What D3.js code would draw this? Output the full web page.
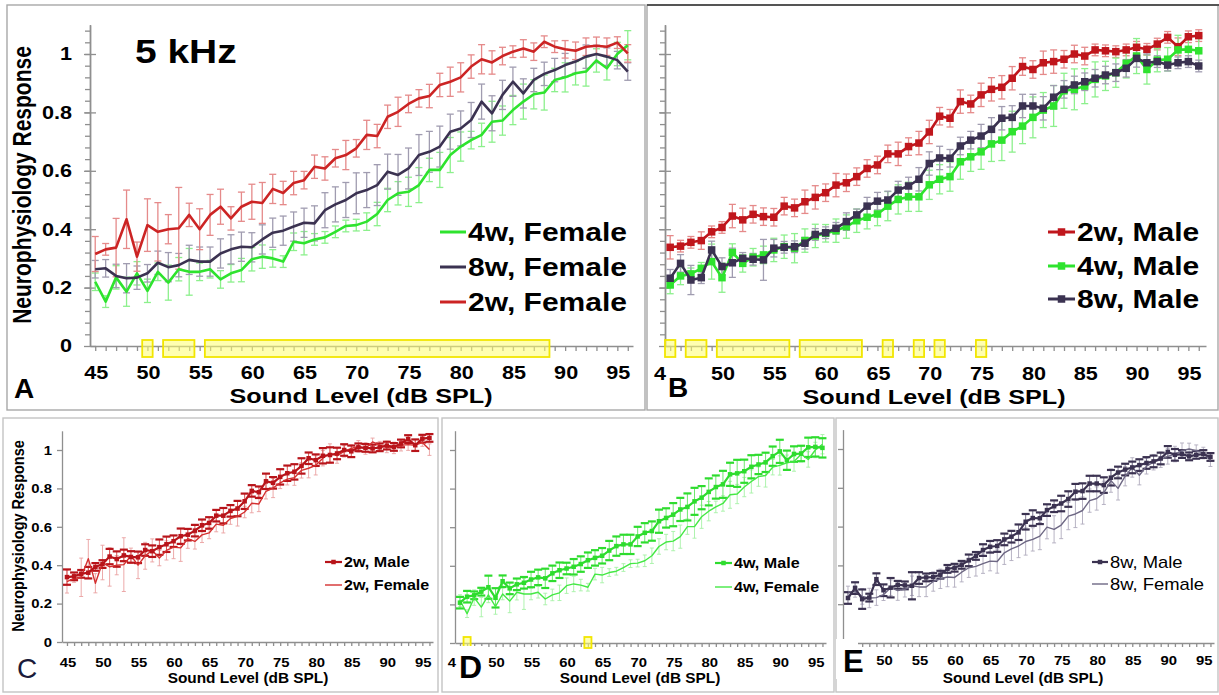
<!DOCTYPE html>
<html>
<head>
<meta charset="utf-8">
<script src="https://cdn.jsdelivr.net/npm/d3@7"></script>
<style>
  body { margin: 0; background: #fff; }
  svg { display: block; }
  text { font-family: "Liberation Sans", Arial, sans-serif; }
</style>
</head>
<body>
<div id="fig"></div>
<script>
// Sound levels (dB SPL)
var levels = [45,46,47,48,49,50,51,52,53,54,55,56,57,58,59,60,61,62,63,64,65,66,67,68,69,70,
              71,72,73,74,75,76,77,78,79,80,81,82,83,84,85,86,87,88,89,90,91,92,93,94,95,96];

// Female responses (panel A) and error bars
var female2w = [.315,.331,.337,.434,.306,.414,.391,.40,.403,.449, .40,.449,.477,.437,.477,.494,.49,.538,.524,.558,
                .568,.614,.608,.643,.654,.677,.723,.719,.785,.802, .829,.848,.856,.894,.905,.92,.957,.982,.971,.993,
                1.008,1.019,1.008,1.042,1.025,1.016,1.011,1.025,1.028,1.025, 1.039,1.002];
var female2wErr = [.06,.02,.10,.10,.05,.09,.10,.05,.14,.04, .07,.07,.06,.04,.05,.06,.07,.05,.04,.04,
                   .03,.04,.04,.03,.05,.03,.05,.04,.04,.05, .03,.03,.04,.04,.05,.05,.04,.05,.04,.03,
                   .02,.03,.03,.02,.02,.03,.03,.03,.03,.03, .02,.03];
var female4w = [.22,.152,.235,.186,.249,.189,.254,.217,.263,.254, .254,.263,.228,.249,.26,.297,.306,.30,.289,.357,
                .352,.365,.372,.391,.411,.414,.426,.452,.50,.523, .528,.551,.603,.603,.654,.683,.705,.723,.768,.772,
                .808,.837,.862,.868,.911,.92,.934,.94,.978,.951, 1.0,1.03];
var female4wErr = [.03,.02,.04,.05,.04,.04,.03,.06,.04,.08, .03,.03,.03,.03,.04,.04,.04,.03,.02,.03,
                   .04,.02,.02,.02,.02,.02,.03,.04,.04,.04, .05,.06,.04,.06,.06,.05,.03,.04,.07,.05,
                   .05,.06,.05,.06,.04,.05,.04,.05,.04,.04, .04,.05];
var female8w = [.263,.266,.24,.232,.234,.249,.285,.27,.277,.295, .289,.289,.317,.331,.34,.338,.365,.388,.395,.409,
                .422,.42,.465,.485,.50,.523,.534,.551,.597,.586, .608,.654,.665,.683,.734,.745,.774,.837,.797,.86,
                .905,.865,.911,.932,.945,.962,.974,.991,1.0,.991, .979,.94];
var female8wErr = [.03,.03,.04,.05,.04,.03,.04,.05,.04,.05, .05,.05,.05,.05,.05,.05,.05,.05,.05,.05,
                   .05,.06,.06,.06,.06,.07,.06,.07,.06,.07, .07,.07,.07,.07,.06,.06,.06,.06,.06,.05,
                   .05,.05,.04,.04,.04,.04,.04,.04,.03,.03, .03,.03];

// Male responses (panel B) and error bars
var male2w = [.338,.342,.355,.361,.391,.406,.445,.432,.451,.443, .441,.479,.473,.494,.509,.525,.551,.559,.58,.608,
              .62,.658,.658,.683,.695,.733,.787,.78,.837,.829, .86,.879,.886,.917,.957,.947,.97,.974,.982,1.0,
              .993,1.014,1.011,1.008,1.014,1.023,1.016,1.034,1.057,1.025, 1.059,1.063];
var male2wErr = [.04,.02,.02,.03,.02,.02,.04,.04,.03,.03, .03,.03,.03,.04,.04,.03,.04,.03,.03,.03,
                 .03,.03,.04,.03,.04,.04,.03,.03,.04,.03, .04,.04,.04,.04,.03,.03,.04,.04,.03,.03,
                 .03,.02,.02,.02,.02,.02,.02,.02,.02,.03, .02,.02];
var male4w = [.209,.24,.247,.266,.289,.234,.32,.283,.304,.312, .329,.34,.335,.361,.377,.386,.395,.409,.429,.441,
              .452,.479,.502,.511,.511,.552,.571,.58,.631,.648, .665,.692,.705,.734,.753,.783,.808,.822,.874,.879,
              .89,.913,.925,.936,.968,.993,.947,.979,.982,1.014, 1.016,1.011];
var male4wErr = [.03,.03,.02,.02,.06,.05,.03,.03,.03,.03, .04,.04,.05,.04,.04,.03,.04,.04,.04,.04,
                 .04,.05,.05,.05,.05,.05,.05,.05,.06,.05, .06,.06,.07,.07,.06,.07,.06,.07,.06,.07,
                 .06,.06,.05,.05,.05,.06,.05,.04,.04,.05, .05,.05];
var male8w = [.232,.283,.226,.234,.329,.272,.285,.30,.297,.295, .335,.338,.34,.352,.382,.388,.403,.426,.449,.479,
              .496,.50,.534,.548,.571,.625,.644,.643,.685,.705, .719,.742,.78,.783,.822,.822,.814,.852,.879,.894,
              .905,.917,.928,.936,.951,.985,.97,.974,.962,.97, .974,.959];
var male8wErr = [.03,.03,.05,.02,.03,.03,.05,.02,.02,.07, .03,.02,.02,.02,.02,.02,.02,.03,.02,.03,
                 .03,.03,.03,.03,.04,.04,.04,.03,.03,.03, .04,.04,.04,.04,.04,.04,.04,.04,.03,.03,
                 .03,.03,.03,.03,.03,.03,.03,.02,.02,.02, .02,.02];

// Significant sound levels (yellow boxes), as [from, to]
var sigA = [[50,50],[52,54],[56,88]];
var sigB = [[45,45],[47,48],[50,56],[58,63],[66,66],[69,69],[71,71],[75,75]];
var sigD = [[46,46],[63,63]];

// Tick labels
var xTicks = [45,50,55,60,65,70,75,80,85,90,95];
var yTicks = [0,0.2,0.4,0.6,0.8,1];
var yTickLabels = ["0","0.2","0.4","0.6","0.8","1"];

var RED = "#c0161c", RED_F = "#cc2424", GREEN = "#2ee32e", PURPLE = "#3b3251";
var AXIS = "#8f8f8f";

var svg = d3.select("#fig").append("svg").attr("width", 1219).attr("height", 695);

// text helper, sx stretches glyphs horizontally like the original figure
function label(g, x, y, s, o) {
    o = o || {};
    var sx = o.sx || 1;
    var tr = "translate(" + x + "," + y + ")" +
        (o.rot ? " rotate(-90) scale(1," + sx + ")" : " scale(" + sx + ",1)");
    return g.append("text")
        .attr("transform", tr)
        .attr("text-anchor", o.anchor || "start")
        .style("font-size", (o.size || 14) + "px")
        .style("font-weight", o.weight || "bold")
        .style("fill", o.fill || "#000")
        .text(s);
}

function frame(x, y, w, h, col) {
    svg.append("rect").attr("x", x).attr("y", y).attr("width", w).attr("height", h)
        .attr("fill", "none").attr("stroke", col || "#b5b5b5").attr("stroke-width", 1.4);
}

frame(7, 5, 638, 405, "#a8a8a8");
frame(647, 5, 571, 405, "#a8a8a8");
svg.append("line").attr("x1", 647).attr("x2", 1219).attr("y1", 5).attr("y2", 5)
    .attr("stroke", "#555").attr("stroke-width", 2.2);
frame(3, 418, 435, 274, "#c4c4c4");
frame(442, 418, 392, 274, "#c4c4c4");
frame(836, 418, 382, 274, "#c4c4c4");

function drawPanel(p) {
    var g = svg.append("g");
    var x = d3.scaleLinear().domain(p.xDomain).range(p.xRange);
    var y = d3.scaleLinear().domain([0, 1.1]).range([p.y0, p.y0 - 1.1 * (p.y0 - p.y1)]);
    var x0 = p.xRange[0];

    // y axis
    var yg = g.append("g").attr("transform", "translate(" + x0 + ",0)");
    if (p.minor) {
        yg.call(d3.axisLeft(y).tickValues(d3.range(0.04, 1.09, 0.04)).tickSize(5).tickSizeOuter(0).tickFormat(""));
    }
    yg.append("g").call(d3.axisLeft(y).tickValues(yTicks).tickSize(p.tick).tickSizeOuter(0).tickFormat(""));
    if (p.bothSides) {
        yg.append("g").call(d3.axisRight(y).tickValues(yTicks).tickSize(p.tick).tickSizeOuter(0).tickFormat(""));
    }
    // x axis
    g.append("g").attr("transform", "translate(0," + y(0) + ")")
        .call(d3.axisBottom(x).tickValues(levels).tickSize(p.tick - 1).tickSizeOuter(0).tickFormat(""));
    g.selectAll("path, line").attr("stroke", AXIS).attr("stroke-width", 1.3);

    // significance boxes
    if (p.sig) {
        g.selectAll("rect.sig").data(p.sig).enter().append("rect")
            .attr("x", function(d) { return x(d[0] - 0.5); })
            .attr("width", function(d) { return x(d[1] + 0.5) - x(d[0] - 0.5); })
            .attr("y", y(0) - p.sigUp).attr("height", p.sigH)
            .attr("fill", "#ffff70").attr("fill-opacity", 0.55)
            .attr("stroke", "#f2e600").attr("stroke-width", 1.8);
    }

    // error bars first, then lines and markers
    p.series.forEach(function(s) {
        var pts = levels.map(function(l, i) { return {l: l, v: s.values[i], e: s.err[i]}; });
        var eg = g.append("g").attr("stroke", s.errColor);
        eg.selectAll("line.bar").data(pts).enter().append("line")
            .attr("stroke-width", s.errWidth)
            .attr("x1", function(d) { return x(d.l); }).attr("x2", function(d) { return x(d.l); })
            .attr("y1", function(d) { return y(d.v - d.e); }).attr("y2", function(d) { return y(d.v + d.e); });
        [1, -1].forEach(function(sign) {
            eg.selectAll("line.cap" + sign).data(pts).enter().append("line")
                .attr("stroke", s.capColor || s.errColor)
                .attr("stroke-width", s.capWidth || s.errWidth)
                .attr("x1", function(d) { return x(d.l) - s.cap / 2; })
                .attr("x2", function(d) { return x(d.l) + s.cap / 2; })
                .attr("y1", function(d) { return y(d.v + sign * d.e); })
                .attr("y2", function(d) { return y(d.v + sign * d.e); });
        });
        s.pts = pts;
    });
    p.series.forEach(function(s) {
        var line = d3.line().x(function(d) { return x(d.l); }).y(function(d) { return y(d.v); });
        g.append("path").datum(s.pts).attr("d", line)
            .attr("fill", "none").attr("stroke", s.color).attr("stroke-width", s.width)
            .attr("stroke-linejoin", "round");
        if (s.marker) {
            g.selectAll(null).data(s.pts).enter().append("rect")
                .attr("x", function(d) { return x(d.l) - s.marker / 2; })
                .attr("y", function(d) { return y(d.v) - s.marker / 2; })
                .attr("width", s.marker).attr("height", s.marker)
                .attr("fill", s.color);
        }
    });

    // tick labels
    if (p.yLabels) {
        yTicks.forEach(function(t, i) {
            label(g, x0 - p.yLabelGap, y(t) + p.tickFont * 0.36, yTickLabels[i],
                {size: p.tickFont, anchor: "end", sx: p.sx});
        });
    }
    xTicks.forEach(function(t) {
        if (t === 45 && p.first === "none") return;
        if (t === 45 && p.first) {
            // only the "4" of the first label shows beside the panel letter
            label(g, p.first, p.xLabelY, "4", {size: p.tickFont, anchor: "end", sx: p.sx});
            return;
        }
        label(g, x(t) + 1, p.xLabelY, String(t), {size: p.tickFont, anchor: "middle", sx: p.sx});
    });
    label(g, p.xTitle[0], p.xTitle[1], "Sound Level (dB SPL)", {size: p.titleFont, anchor: "middle", sx: p.sx});
    if (p.yTitle) {
        label(g, p.yTitle[0], p.yTitle[1], "Neurophysiology Response",
            {size: p.yTitle[2], anchor: "middle", rot: true, sx: p.sx});
    }

    // legend
    p.legend.forEach(function(it, i) {
        var cy = p.leg.y[i];
        g.append("line").attr("x1", p.leg.x1).attr("x2", p.leg.x2).attr("y1", cy).attr("y2", cy)
            .attr("stroke", it.s.color).attr("stroke-width", it.s.legWidth || it.s.width);
        if (it.s.marker) {
            var m = it.s.marker;
            g.append("rect").attr("x", (p.leg.x1 + p.leg.x2) / 2 - m / 2).attr("y", cy - m / 2)
                .attr("width", m).attr("height", m).attr("fill", it.s.color);
        }
        label(g, p.leg.x2 + 2, cy + p.leg.font * 0.36, it.text,
            {size: p.leg.font, weight: p.leg.weight || "bold", sx: p.leg.sx || p.sx});
    });

    // panel letter with white backing
    if (p.letterBox) {
        g.append("rect").attr("x", p.letterBox[0]).attr("y", p.letterBox[1])
            .attr("width", p.letterBox[2]).attr("height", p.letterBox[3]).attr("fill", "#fff");
    }
    label(g, p.letter[0], p.letter[1], p.letter[2],
        {size: p.letter[3], weight: p.letter[4] || "bold", fill: p.letter[5] || "#000"});
    return g;
}

function bigStyle(values, err, color, errColor, marker) {
    return {values: values, err: err, color: color, width: 2.6, errColor: errColor,
            errWidth: 1.3, cap: 7, marker: marker, legWidth: 3};
}
function maleSmall(values, err, color, errColor) {
    return {values: values, err: err, color: color, width: 2.2, errColor: errColor, errWidth: 1,
            cap: 8, capColor: color, capWidth: 2.2, marker: 4.5, legWidth: 2.2};
}
function femaleSmall(values, err, color, errColor) {
    return {values: values, err: err, color: color, width: 1.4, errColor: errColor, errWidth: 0.9,
            cap: 4, legWidth: 1.4};
}

// Panel A: females
var aG = bigStyle(female4w, female4wErr, GREEN, "#8cf08c");
var aP = bigStyle(female8w, female8wErr, PURPLE, "#a09cb0");
var aR = bigStyle(female2w, female2wErr, RED_F, "#e58a8a");
var gA = drawPanel({
    xDomain: [44.5, 96.5], xRange: [90, 633], y0: 346, y1: 54,
    minor: true, bothSides: true, tick: 6, sig: sigA, sigUp: 6, sigH: 17,
    series: [aG, aP, aR],
    yLabels: true, yLabelGap: 18, tickFont: 18, sx: 1.2, xLabelY: 379,
    xTitle: [361, 403], titleFont: 21, yTitle: [31, 185, 21],
    legend: [{s: aG, text: "4w, Female"}, {s: aP, text: "8w, Female"}, {s: aR, text: "2w, Female"}],
    leg: {x1: 440, x2: 466, y: [232, 267, 302], font: 25},
    letter: [14, 398, "A", 28]
});
label(gA, 135, 63, "5 kHz", {size: 33, sx: 1.18});

// Panel B: males
var bR = bigStyle(male2w, male2wErr, RED, "#e58a8a", 7.5);
var bG = bigStyle(male4w, male4wErr, GREEN, "#8cf08c", 7.5);
var bP = bigStyle(male8w, male8wErr, PURPLE, "#a09cb0", 7.5);
drawPanel({
    xDomain: [44.5, 96.7], xRange: [665, 1206], y0: 346, y1: 54,
    minor: true, bothSides: true, tick: 6, sig: sigB, sigUp: 6, sigH: 17,
    series: [bR, bG, bP],
    yLabels: false, tickFont: 18, sx: 1.2, xLabelY: 380, first: 666,
    xTitle: [934, 404], titleFont: 21,
    legend: [{s: bR, text: "2w, Male"}, {s: bG, text: "4w, Male"}, {s: bP, text: "8w, Male"}],
    leg: {x1: 1048, x2: 1075, y: [232, 266, 299], font: 25},
    letterBox: [667, 362, 28, 40],
    letter: [668, 397, "B", 28]
});

// Panel C: 2w male vs female
var cF = femaleSmall(female2w, female2wErr, "#d43030", "#eaa0a0");
var cM = maleSmall(male2w, male2wErr, "#b8141a", "#d85050");
drawPanel({
    xDomain: [44.3, 96.5], xRange: [62, 433], y0: 642, y1: 450,
    minor: false, bothSides: false, tick: 5,
    series: [cF, cM],
    yLabels: true, yLabelGap: 10, tickFont: 13.5, sx: 1.1, xLabelY: 667,
    xTitle: [248, 683], titleFont: 14, yTitle: [24, 536, 14.5],
    legend: [{s: cM, text: "2w, Male"}, {s: cF, text: "2w, Female"}],
    leg: {x1: 325, x2: 342, y: [562, 585], font: 14, sx: 1.15},
    letter: [17, 678, "C", 28, "normal", "#1b1b3a"]
});

// Panel D: 4w male vs female
var dF = femaleSmall(female4w, female4wErr, "#45e845", "#a6f2a6");
var dM = maleSmall(male4w, male4wErr, "#2edc2e", "#6fe86f");
drawPanel({
    xDomain: [44.3, 96.5], xRange: [455, 826], y0: 643, y1: 450,
    minor: false, bothSides: false, tick: 5, sig: sigD, sigUp: 6, sigH: 11,
    series: [dF, dM],
    yLabels: false, tickFont: 13.5, sx: 1.1, xLabelY: 667, first: 456,
    xTitle: [640, 683], titleFont: 14,
    legend: [{s: dM, text: "4w, Male"}, {s: dF, text: "4w, Female"}],
    leg: {x1: 715, x2: 732, y: [563, 587], font: 14, sx: 1.15},
    letterBox: [457, 646, 30, 36],
    letter: [459, 678, "D", 32]
});

// Panel E: 8w male vs female
var eF = femaleSmall(female8w, female8wErr, "#6e6884", "#b0acbd");
var eM = maleSmall(male8w, male8wErr, PURPLE, "#7d7790");
drawPanel({
    xDomain: [44.3, 96.5], xRange: [843, 1214], y0: 643, y1: 449,
    minor: false, bothSides: false, tick: 5,
    series: [eF, eM],
    yLabels: false, tickFont: 13.5, sx: 1.1, xLabelY: 665, first: "none",
    xTitle: [1023, 683], titleFont: 14,
    legend: [{s: eM, text: "8w, Male"}, {s: eF, text: "8w, Female"}],
    leg: {x1: 1092, x2: 1108, y: [562, 584], font: 16, weight: "normal", sx: 1.15},
    letterBox: [836, 639, 22, 40],
    letter: [843, 672, "E", 31]
});
</script>
</body>
</html>
